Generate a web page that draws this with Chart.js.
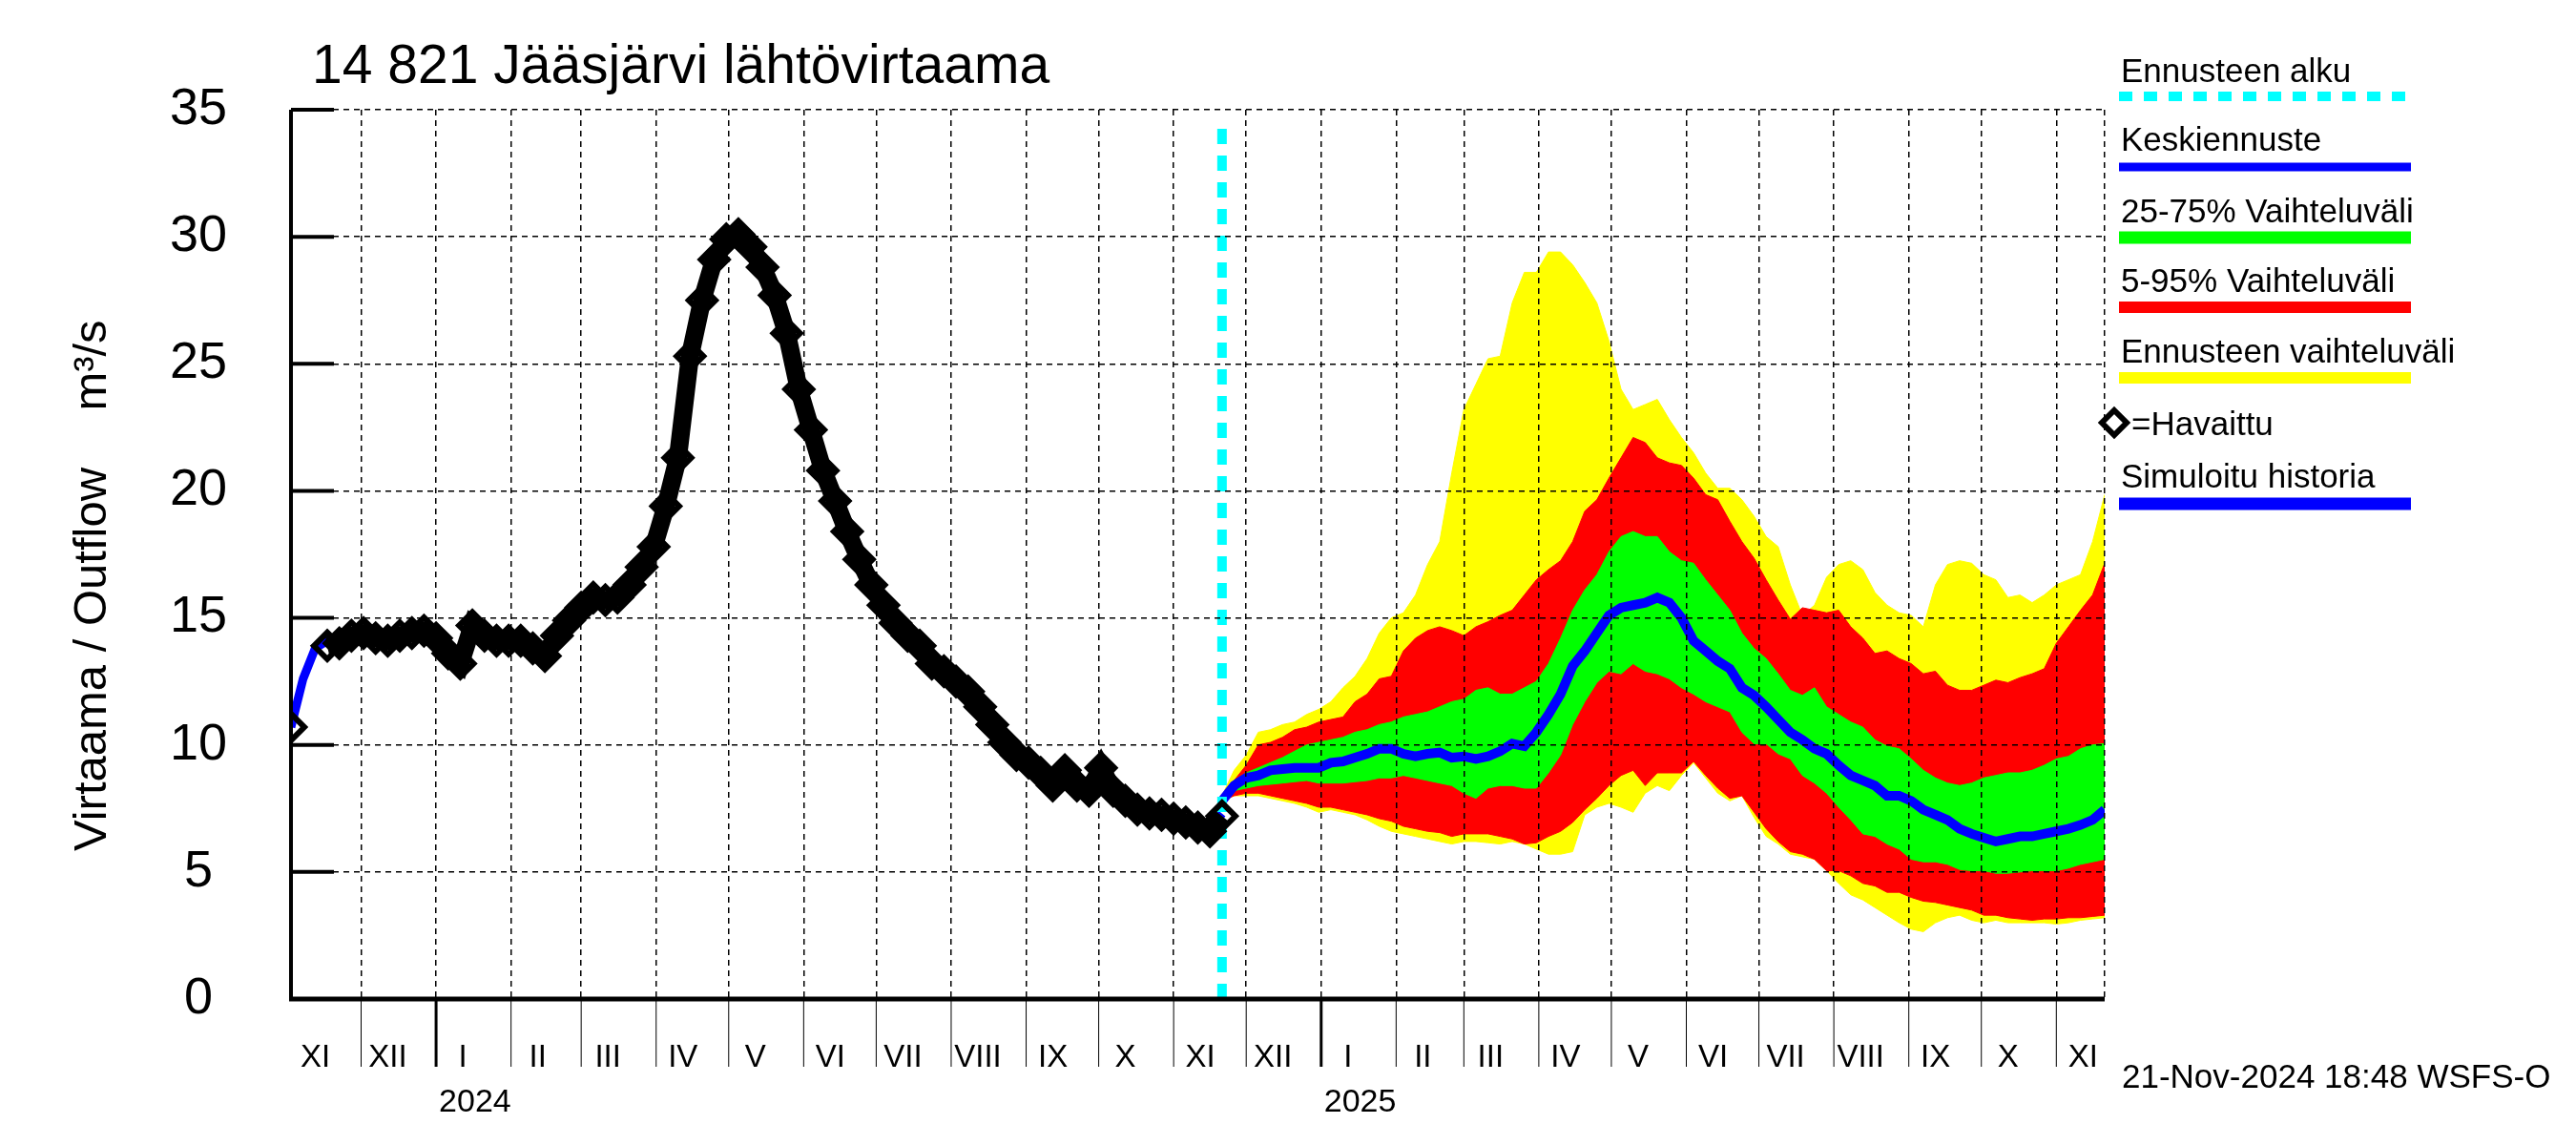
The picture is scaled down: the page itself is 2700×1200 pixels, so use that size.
<!DOCTYPE html>
<html>
<head>
<meta charset="utf-8">
<script src="https://cdn.jsdelivr.net/npm/chart.js@4.4.1/dist/chart.umd.min.js"></script>
<style>
  body { margin: 0; background: #fff; }
  canvas { display: block; }
</style>
</head>
<body>
<canvas id="chart" width="2700" height="1200"></canvas>
<script>
// days are counted from 1 Jan 2024
const titleText = "14 821 Jääsjärvi lähtövirtaama";
const stampText = "21-Nov-2024 18:48 WSFS-O";

const monthStarts = [-61, -31, 0, 31, 60, 91, 121, 152, 182, 213, 244, 274, 305,
                     335, 366, 397, 425, 456, 486, 517, 547, 578, 609, 639, 670];
const monthLabels = ["XI", "XII", "I", "II", "III", "IV", "V", "VI", "VII", "VIII", "IX", "X", "XI",
                     "XII", "I", "II", "III", "IV", "V", "VI", "VII", "VIII", "IX", "X", "XI"];
const yearStarts = [0, 366];
const yearLabels = ["2024", "2025"];
const yTicks = [0, 5, 10, 15, 20, 25, 30, 35];

// observed and simulated history, every 5 days from day -60
const histStart = -60;
const obsValues = [
  10.7, null, null, 13.9, 14.0, 14.3, 14.4, 14.2, 14.1, 14.3, 14.4, 14.5,
  14.2, 13.6, 13.2, 14.7, 14.3, 14.1, 14.1, 14.1, 13.8, 13.5, 14.3, 14.9,
  15.4, 15.8, 15.7, 15.8, 16.3, 17.0, 17.8, 19.4, 21.3, 25.3, 27.5, 29.1,
  29.9, 30.1, 29.6, 28.8, 27.7, 26.2, 24.0, 22.4, 20.8, 19.6, 18.4, 17.3,
  16.3, 15.5, 14.8, 14.3, 13.9, 13.2, 12.9, 12.5, 12.1, 11.5, 10.8, 10.1,
  9.6, 9.3, 8.9, 8.4, 9.0, 8.4, 8.2, 9.1, 8.2, 7.8, 7.45, 7.3,
  7.25, 7.1, 6.95, 6.75, 6.6, 7.2
];
const simValues = [
  10.7, 12.6, 13.8, 14.1, 14.1, 14.3, 14.4, 14.2, 14.1, 14.3, 14.4, 14.4,
  14.2, 13.7, 13.4, 14.5, 14.3, 14.1, 14.1, 14.0, 13.8, 13.6, 14.3, 14.9,
  15.4, 15.7, 15.7, 15.8, 16.3, 17.0, 17.9, 19.5, 21.4, 25.2, 27.4, 29.0,
  29.9, 30.0, 29.6, 28.8, 27.7, 26.2, 24.1, 22.4, 20.8, 19.6, 18.4, 17.3,
  16.3, 15.5, 14.8, 14.3, 13.9, 13.2, 12.9, 12.5, 12.1, 11.5, 10.8, 10.1,
  9.6, 9.3, 8.9, 8.5, 8.9, 8.4, 8.3, 8.9, 8.3, 7.8, 7.45, 7.3,
  7.25, 7.1, 6.95, 6.8, 6.7, 7.3
];

// forecast, every 5 days from day 325 (21 Nov 2024)
const fcStart = 325;
const yellowHi = [
  8.0, 9.0, 9.6, 10.5, 10.6, 10.8, 10.9, 11.2, 11.4, 11.7, 12.25, 12.7, 13.4, 14.4, 15.0, 15.2,
  15.9, 17.1, 18.0, 20.7, 23.2, 24.2, 25.2, 25.3, 27.4, 28.6, 28.6, 29.4, 29.4, 28.9, 28.2, 27.4,
  25.9, 24.0, 23.2, 23.4, 23.6, 22.8,
  22.1, 21.5, 20.7, 20.1, 20.1, 19.65, 19.0, 18.2, 17.8, 16.3, 15.1, 15.5, 16.6, 17.1, 17.25, 16.9,
  16.0, 15.5, 15.2, 15.1, 14.65, 16.3, 17.1, 17.25, 17.15, 16.7, 16.5, 15.8, 15.9, 15.6, 15.9, 16.3,
  16.5, 16.7, 18.0, 19.85
];
const yellowLo = [
  7.8, 8.0, 8.0, 8.0, 7.9, 7.8, 7.7, 7.55, 7.35, 7.45, 7.35, 7.25, 7.05, 6.8, 6.6, 6.5,
  6.4, 6.3, 6.2, 6.1, 6.2, 6.2, 6.15, 6.1, 6.2, 6.1, 5.9, 5.7, 5.7, 5.8, 7.25, 7.55,
  7.7, 7.55, 7.35, 8.1, 8.4, 8.2,
  8.8, 9.3, 8.7, 8.1, 7.8, 8.0, 7.15, 6.4, 6.1, 5.7, 5.6, 5.5, 5.05, 4.55, 4.1, 3.9,
  3.6, 3.3, 3.0, 2.75, 2.65, 3.0, 3.2, 3.3, 3.1, 3.0, 3.1, 3.0, 3.0, 3.0, 3.0, 2.95,
  3.0, 3.1, 3.15, 3.2
];
const redHi = [
  8.0, 8.6, 9.2, 10.0, 10.1, 10.3, 10.6, 10.7, 10.9, 11.0, 11.1, 11.7, 12.0, 12.6, 12.7, 13.7,
  14.2, 14.5, 14.65, 14.5, 14.3, 14.65, 14.85, 15.1, 15.3, 15.9, 16.5, 16.9, 17.25, 18.0, 19.2, 19.65,
  20.5, 21.3, 22.1, 21.9, 21.3, 21.1,
  21.0, 20.5, 19.85, 19.65, 18.8, 18.0, 17.35, 16.5, 15.7, 14.95, 15.4, 15.3, 15.2, 15.3, 14.65, 14.2,
  13.6, 13.7, 13.4, 13.2, 12.8, 12.9, 12.35, 12.15, 12.15, 12.35, 12.55, 12.45, 12.65, 12.8, 13.0, 14.0,
  14.65, 15.3, 15.9, 17.15
];
const redLo = [
  7.8, 8.0, 8.1, 8.1, 8.0, 7.9, 7.8, 7.7, 7.55, 7.55, 7.45, 7.35, 7.25, 7.1, 7.0, 6.8,
  6.7, 6.6, 6.55, 6.4, 6.5, 6.5, 6.5, 6.4, 6.3, 6.1, 6.15, 6.4, 6.6, 6.95, 7.45, 7.9,
  8.4, 8.8, 9.0, 8.4, 8.9, 8.9,
  8.9, 9.35, 8.8, 8.3, 7.9, 8.0, 7.35, 6.7, 6.2, 5.8, 5.7, 5.5, 5.05, 5.05, 4.85, 4.55,
  4.45, 4.2, 4.2, 4.0, 3.85, 3.8, 3.7, 3.6, 3.5, 3.3, 3.3, 3.2, 3.15, 3.1, 3.15, 3.15,
  3.2, 3.2, 3.25, 3.3
];
const greenHi = [
  7.9, 8.6, 8.9, 9.1, 9.3, 9.5, 9.75, 10.0, 10.1, 10.2, 10.3, 10.5, 10.6, 10.8, 10.9, 11.1,
  11.2, 11.3, 11.5, 11.7, 11.8, 12.15, 12.25, 12.0, 12.0, 12.25, 12.5, 13.2, 14.2, 15.3, 16.1, 16.7,
  17.6, 18.2, 18.4, 18.2, 18.2, 17.6,
  17.25, 17.15, 16.5, 15.9, 15.3, 14.4, 13.8, 13.4, 12.8, 12.15, 11.95, 12.25, 11.5, 11.2, 10.9, 10.7,
  10.2, 9.95, 9.85, 9.45, 9.0, 8.7, 8.5, 8.4, 8.5, 8.7, 8.8, 8.9, 8.9, 9.0, 9.2, 9.45,
  9.55, 9.85, 10.0, 10.05
];
const greenLo = [
  7.8, 8.2, 8.3, 8.4, 8.45, 8.5, 8.55, 8.6, 8.5, 8.5, 8.5, 8.55, 8.6, 8.7, 8.7, 8.8,
  8.7, 8.6, 8.5, 8.4, 8.1, 7.9, 8.3, 8.4, 8.4, 8.3, 8.3, 8.9, 9.6, 10.8, 11.7, 12.45,
  12.9, 12.8, 13.2, 12.9, 12.8, 12.6,
  12.25, 12.0, 11.7, 11.5, 11.3, 10.5, 10.05, 10.05, 9.65, 9.45, 8.8, 8.5, 8.1, 7.55, 7.05, 6.5,
  6.4, 6.1, 5.9, 5.5, 5.4, 5.4, 5.3, 5.1, 5.05, 5.05, 4.95, 4.95, 5.0, 5.05, 5.05, 5.05,
  5.15, 5.3, 5.4, 5.5
];
const median = [
  7.8, 8.4, 8.7, 8.8, 9.0, 9.05, 9.1, 9.1, 9.1, 9.3, 9.35, 9.5, 9.65, 9.85, 9.85, 9.65,
  9.55, 9.65, 9.7, 9.5, 9.55, 9.45, 9.55, 9.75, 10.05, 9.95, 10.5, 11.2, 12.0, 13.1, 13.7, 14.4,
  15.1, 15.4, 15.5, 15.6, 15.8, 15.6,
  15.0, 14.1, 13.7, 13.3, 13.0, 12.25, 11.95, 11.5, 11.0, 10.5, 10.2, 9.85, 9.65, 9.2, 8.8, 8.6,
  8.4, 8.0, 8.0, 7.8, 7.45, 7.25, 7.05, 6.7, 6.5, 6.35, 6.2, 6.3, 6.4, 6.4, 6.5, 6.6,
  6.7, 6.85, 7.05, 7.45
];
const forecastLine = [0, 34.7];

const legendLabels = ["Ennusteen alku", "Keskiennuste", "25-75% Vaihteluväli",
                      "5-95% Vaihteluväli", "Ennusteen vaihteluväli", "=Havaittu", "Simuloitu historia"];

const FONT = '"Liberation Sans", Arial, Helvetica, sans-serif';

function series(start, values) {
    return values.map((v, i) => ({ x: start + 5 * i, y: v }));
}

function band(values, color, fill, order) {
    return {
        data: series(fcStart, values),
        borderColor: color,
        borderWidth: 1,
        backgroundColor: color,
        pointRadius: 0,
        fill: fill,
        tension: 0,
        order: order
    };
}

// -------------------------
// EXTRA DRAWING (axes, labels, legend)
// -------------------------
const decor = {
    id: "decor",
    afterDraw(chart) {
        const ctx = chart.ctx;
        const a = chart.chartArea;
        const x = chart.scales.x;
        const y = chart.scales.y;
        ctx.save();

        // y ticks, inside the plot
        ctx.strokeStyle = "#000";
        ctx.fillStyle = "#000";
        ctx.lineWidth = 4;
        ctx.font = "54px " + FONT;
        ctx.textAlign = "center";
        ctx.textBaseline = "middle";
        yTicks.forEach(v => {
            let py = y.getPixelForValue(v);
            ctx.beginPath();
            ctx.moveTo(a.left, py);
            ctx.lineTo(a.left + 45, py);
            ctx.stroke();
            ctx.fillText(String(v), 208, py);
        });

        // axis lines
        ctx.lineWidth = 4;
        ctx.beginPath();
        ctx.moveTo(a.left, a.top);
        ctx.lineTo(a.left, a.bottom);
        ctx.stroke();
        ctx.lineWidth = 5;
        ctx.beginPath();
        ctx.moveTo(a.left - 2, a.bottom);
        ctx.lineTo(a.right, a.bottom);
        ctx.stroke();

        // month ticks below the axis
        monthStarts.forEach(d => {
            if (d <= x.min || d > x.max) return;
            let px = x.getPixelForValue(d);
            ctx.lineWidth = yearStarts.includes(d) ? 3 : 1;
            ctx.beginPath();
            ctx.moveTo(px, a.bottom);
            ctx.lineTo(px, 1118);
            ctx.stroke();
        });

        // month labels
        ctx.font = "33px " + FONT;
        ctx.textAlign = "center";
        ctx.textBaseline = "middle";
        monthLabels.forEach((m, i) => {
            let px = x.getPixelForValue(monthStarts[i] + 15) - 10;
            if (px < a.left || px > a.right) return;
            ctx.fillText(m, px, 1109);
        });

        // years
        ctx.font = "34px " + FONT;
        ctx.textAlign = "left";
        ctx.textBaseline = "alphabetic";
        yearLabels.forEach((t, i) => {
            ctx.fillText(t, x.getPixelForValue(yearStarts[i]) + 3, 1165);
        });

        // title
        ctx.font = "57px " + FONT;
        ctx.fillText(titleText, 327, 87);

        // time stamp
        ctx.font = "35px " + FONT;
        ctx.fillText(stampText, 2224, 1140);

        // y axis title
        ctx.save();
        ctx.translate(97, 0);
        ctx.rotate(-Math.PI / 2);
        ctx.font = "49px " + FONT;
        ctx.textAlign = "center";
        ctx.textBaseline = "middle";
        ctx.fillText("Virtaama / Outflow", -691, 0);
        ctx.fillText("m³/s", -383, 0);
        ctx.restore();

        // legend
        const lx0 = 2221, lx1 = 2527;
        const rows = [
            { text: 86,  line: 101, color: "#00ffff", w: 10, dash: [14, 12] },
            { text: 158, line: 175, color: "#0000ff", w: 9 },
            { text: 233, line: 249, color: "#00ff00", w: 13 },
            { text: 306, line: 322, color: "#ff0000", w: 12 },
            { text: 380, line: 396, color: "#ffff00", w: 12 },
            { text: 456, line: null },
            { text: 511, line: 528, color: "#0000ff", w: 13 }
        ];
        ctx.font = "35px " + FONT;
        ctx.textAlign = "left";
        ctx.textBaseline = "alphabetic";
        rows.forEach((r, i) => {
            ctx.fillStyle = "#000";
            if (r.line === null) {
                ctx.fillText(legendLabels[i], 2234, r.text);
                ctx.strokeStyle = "#000";
                ctx.lineWidth = 6;
                ctx.beginPath();
                ctx.moveTo(2216, 430);
                ctx.lineTo(2229, 443);
                ctx.lineTo(2216, 456);
                ctx.lineTo(2203, 443);
                ctx.closePath();
                ctx.stroke();
                return;
            }
            ctx.fillText(legendLabels[i], lx0 + 2, r.text);
            ctx.strokeStyle = r.color;
            ctx.lineWidth = r.w;
            ctx.lineCap = "butt";
            ctx.setLineDash(r.dash || []);
            ctx.beginPath();
            ctx.moveTo(lx0, r.line);
            ctx.lineTo(lx1, r.line);
            ctx.stroke();
            ctx.setLineDash([]);
        });

        ctx.restore();
    }
};

let ctx = document.getElementById("chart").getContext("2d");

let chart = new Chart(ctx, {
    type: "line",
    data: {
        datasets: [
            band(yellowHi, "#ffff00", "+1", 6),
            band(yellowLo, "#ffff00", false, 6),
            band(redHi, "#ff0000", "+1", 5),
            band(redLo, "#ff0000", false, 5),
            band(greenHi, "#00ff00", "+1", 4),
            band(greenLo, "#00ff00", false, 4),
            {
                data: series(fcStart, median),
                borderColor: "#0000ff",
                borderWidth: 10,
                pointRadius: 0,
                fill: false,
                tension: 0,
                order: 3
            },
            {
                data: series(histStart, simValues),
                borderColor: "#0000ff",
                borderWidth: 9,
                pointRadius: 0,
                fill: false,
                tension: 0,
                order: 3
            },
            {
                data: forecastLine.map(v => ({ x: fcStart, y: v })),
                borderColor: "#00ffff",
                borderWidth: 10,
                borderDash: [16, 12],
                pointRadius: 0,
                fill: false,
                order: 2
            },
            {
                data: series(histStart, obsValues),
                borderColor: "#000000",
                borderWidth: 19,
                backgroundColor: "rgba(0,0,0,0)",
                pointStyle: "rectRot",
                pointRadius: 14,
                pointBorderWidth: 6,
                pointBorderColor: "#000000",
                pointBackgroundColor: "rgba(0,0,0,0)",
                spanGaps: false,
                fill: false,
                tension: 0,
                order: 1
            }
        ]
    },
    options: {
        responsive: false,
        animation: false,
        devicePixelRatio: 1,
        layout: {
            padding: { left: 305, right: 494, top: 115, bottom: 153 }
        },
        plugins: {
            legend: { display: false },
            tooltip: { enabled: false }
        },
        scales: {
            x: {
                type: "linear",
                min: -60,
                max: 690,
                ticks: { display: false },
                grid: { color: "#000", lineWidth: 1.5, drawTicks: false, z: 1 },
                border: { display: false, dash: [6, 5] },
                afterBuildTicks: s => {
                    s.ticks = monthStarts.filter(v => v > s.min && v <= s.max)
                        .concat([s.max]).map(v => ({ value: v }));
                }
            },
            y: {
                min: 0,
                max: 35,
                ticks: { display: false, stepSize: 5 },
                grid: { color: "#000", lineWidth: 1.5, drawTicks: false, z: 1 },
                border: { display: false, dash: [6, 5] }
            }
        }
    },
    plugins: [decor]
});
</script>
</body>
</html>
